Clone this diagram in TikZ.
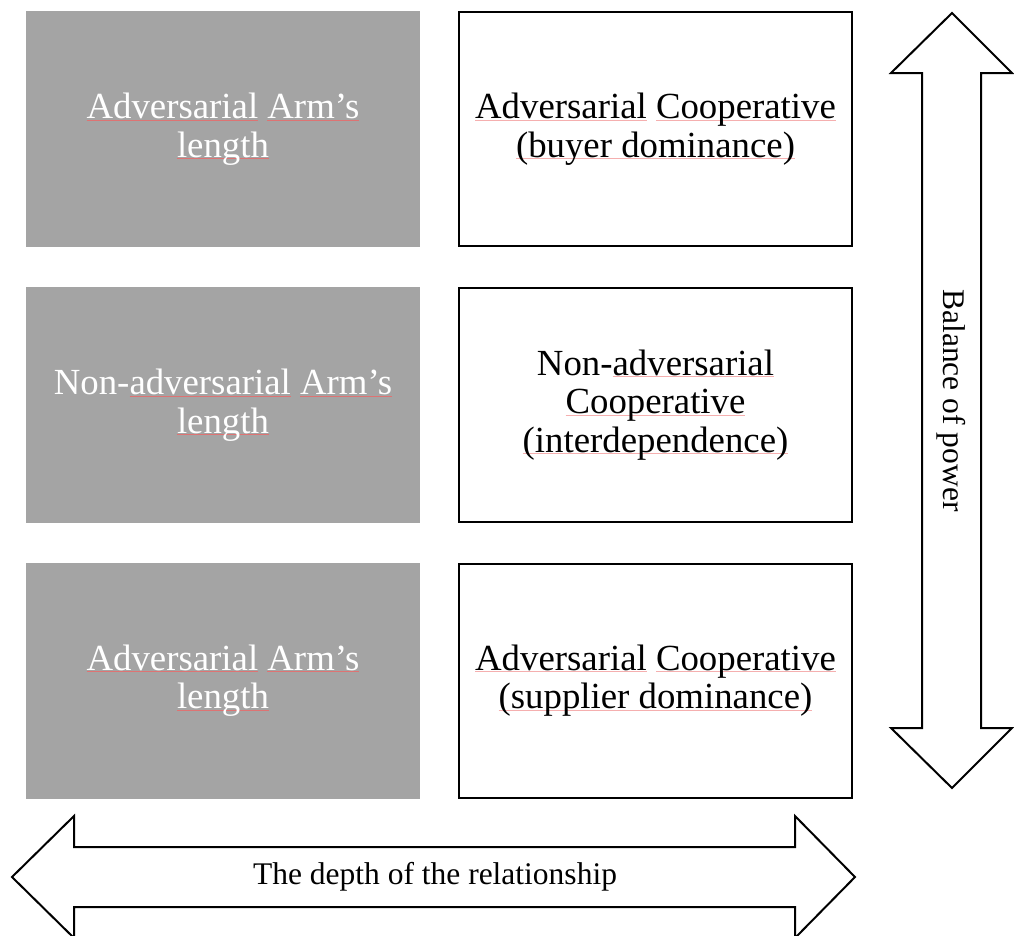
\documentclass[tikz,border=0pt]{standalone}
\usepackage{fontspec}
\setmainfont{Liberation Serif}
\definecolor{boxgray}{RGB}{164,164,164}
\definecolor{sqred}{RGB}{222,115,115}
\definecolor{sqpink}{RGB}{245,175,175}
\newsavebox{\sqbox}
\newcommand\spl[1]{\sbox{\sqbox}{#1}\leavevmode\rlap{\color{sqred}\rule[-2pt]{\wd\sqbox}{0.9pt}}\usebox{\sqbox}}
\newcommand\spp[1]{\sbox{\sqbox}{#1}\leavevmode\rlap{\color{sqpink}\rule[-2pt]{\wd\sqbox}{0.9pt}}\usebox{\sqbox}}
\tikzset{
  boxtext/.style={font=\fontsize{36.8}{38.5}\selectfont, align=center, inner sep=0pt},
  graybox/.style={boxtext, fill=boxgray, text=white, minimum width=394pt, minimum height=236pt},
  whitebox/.style={boxtext, draw=black, line width=2pt, fill=white, minimum width=393pt, minimum height=234pt},
  bigarrow/.style={draw=black, line width=2pt, fill=white, line join=miter},
  axislabel/.style={font=\fontsize{31.5}{34}\selectfont, inner sep=0pt}
}
\begin{document}
\begin{tikzpicture}[x=1pt,y=-1pt]
\useasboundingbox (0,0) rectangle (1014,935);
% grey boxes
\node[graybox] (g1) at (223,129) {\spl{Adversarial} \spl{Arm’s}\\\spl{length}};
\node[graybox] (g2) at (223,405) {Non-\spl{adversarial} \spl{Arm’s}\\\spl{length}};
\node[graybox] (g3) at (223,680.5) {\spl{Adversarial} \spl{Arm’s}\\\spl{length}};
% white boxes
\node[whitebox] (w1) at (655.5,129) {\spp{Adversarial} \spp{Cooperative}\\\spp{(buyer dominance)}};
\node[whitebox] (w2) at (655.5,405) {Non-\spp{adversarial}\\\spp{Cooperative}\\\spp{(interdependence)}};
\node[whitebox] (w3) at (655.5,680.5) {\spp{Adversarial} \spp{Cooperative}\\\spp{(supplier dominance)}};
% vertical double arrow
\draw[bigarrow] (952,13) -- (1012,73) -- (981,73) -- (981,728) -- (1012,728) -- (952,788)
  -- (891,728) -- (922,728) -- (922,73) -- (891,73) -- cycle;
\node[axislabel, rotate=-90] (bp) at (951.5,400.5) {Balance of power};
% horizontal double arrow
\draw[bigarrow] (12,877) -- (74,816) -- (74,847) -- (795,847) -- (795,816) -- (855,877)
  -- (795,938) -- (795,907) -- (74,907) -- (74,938) -- cycle;
\node[axislabel] (dr) at (435,877) {The depth of the relationship};
\end{tikzpicture}
\end{document}
